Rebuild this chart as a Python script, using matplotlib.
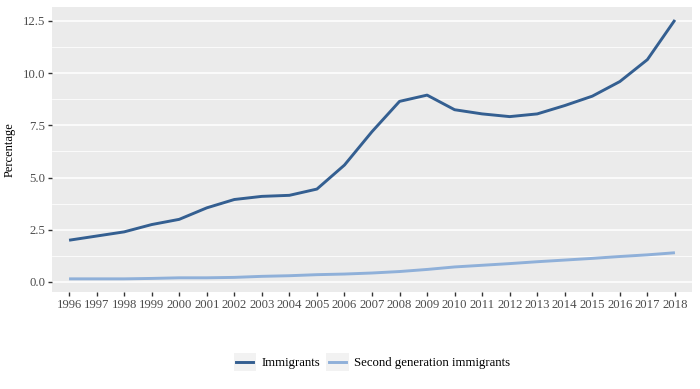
import numpy as np
import matplotlib
matplotlib.use('Agg')
import matplotlib.pyplot as plt
from matplotlib.patches import Rectangle
from matplotlib.lines import Line2D
from matplotlib.legend_handler import HandlerBase

plt.rcParams['font.family'] = ['Liberation Serif', 'DejaVu Serif']

years = list(range(1996, 2019))
immigrants = [2.0, 2.2, 2.4, 2.75, 3.0, 3.55, 3.95, 4.1, 4.15, 4.45, 5.6, 7.2,
              8.65, 8.95, 8.25, 8.05, 7.92, 8.05, 8.45, 8.9, 9.6, 10.65, 12.55]
second_gen = [0.15, 0.15, 0.15, 0.17, 0.2, 0.2, 0.22, 0.27, 0.3, 0.35, 0.38, 0.43,
              0.5, 0.6, 0.72, 0.8, 0.88, 0.97, 1.05, 1.13, 1.22, 1.3, 1.4]
series_names = ['Immigrants', 'Second generation immigrants']
colors = ['#345F91', '#8FB0D9']


class KeyHandler(HandlerBase):
    # ggplot style key: grey box with a line across the middle
    def create_artists(self, legend, orig_handle, xdescent, ydescent,
                       width, height, fontsize, trans):
        bg = Rectangle((-xdescent, -ydescent), width, height,
                       facecolor='#F2F2F2', edgecolor='none', transform=trans)
        pad = width * 0.12
        y = -ydescent + height / 2
        ln = Line2D([-xdescent + pad, -xdescent + width - pad], [y, y],
                    color=orig_handle.get_color(), lw=2.1, transform=trans)
        return [bg, ln]


fig = plt.figure(figsize=(7, 3.89), dpi=100)
ax = fig.add_axes([52/700, 97/389, 640/700, 285/389])
ax.set_facecolor('#EBEBEB')

l1, = ax.plot(years, immigrants, color=colors[0], lw=2.1, solid_capstyle='butt')
l2, = ax.plot(years, second_gen, color=colors[1], lw=2.1, solid_capstyle='butt')

ax.set_xlim(1995.38, 2018.62)
ax.set_ylim(-0.48, 13.17)
ax.set_xticks(years)
ax.set_xticklabels([str(y) for y in years])
ax.set_yticks([0, 2.5, 5, 7.5, 10, 12.5])
ax.set_yticklabels(['0.0', '2.5', '5.0', '7.5', '10.0', '12.5'])
ax.set_yticks([1.25, 3.75, 6.25, 8.75, 11.25], minor=True)
ax.grid(axis='y', which='major', color='white', lw=1.1)
ax.grid(axis='y', which='minor', color='white', lw=0.55)
ax.set_axisbelow(True)
for s in ax.spines.values():
    s.set_visible(False)
ax.tick_params(axis='both', which='major', length=3, width=1, color='#333333',
               labelsize=9.2, labelcolor='#4D4D4D', pad=2)
ax.tick_params(axis='y', which='minor', length=0)
ax.set_ylabel('Percentage', fontsize=9, color='black', labelpad=5)

# legend sits under the panel, centred on the panel rather than the figure
fig.legend([l1, l2], series_names, handler_map={Line2D: KeyHandler()},
           loc='center', bbox_to_anchor=(372/700, 1 - 362/389), ncol=2, frameon=False,
           fontsize=9.2, handlelength=1.75, handleheight=1.75, handletextpad=0.45,
           columnspacing=0.45, borderpad=0)

fig.savefig('out.png', dpi=100)
